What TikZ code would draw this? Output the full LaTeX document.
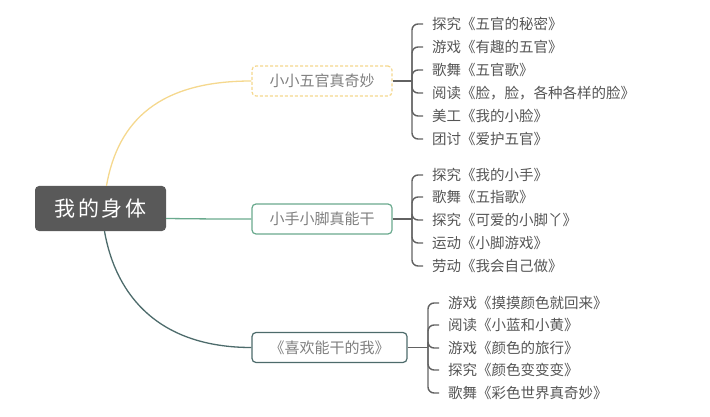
\documentclass[tikz,border=0pt]{standalone}
\usepackage{fontspec}
\setmainfont{Noto Sans CJK SC}
\newfontfamily\rootfont[LetterSpace=12]{Noto Sans CJK SC}

\definecolor{rootgray}{HTML}{595959}
\definecolor{wgline}{HTML}{F5D88E}
\definecolor{sjline}{HTML}{6AAA8E}
\definecolor{woline}{HTML}{4D6B6B}
\definecolor{bracegray}{HTML}{626262}
\definecolor{txtgray}{HTML}{555555}
\definecolor{topicgray}{HTML}{808080}

\tikzset{
  leaf/.style={anchor=west, inner xsep=9pt, inner ysep=0pt, text=txtgray,
    font=\fontsize{14.5}{14.5}\selectfont},
  topic/.style={draw, rounded corners=4pt, line width=1.2pt, minimum width=140pt,
    minimum height=30pt, fill=white, text=topicgray, font=\fontsize{15}{15}\selectfont},
  brace/.style={bracegray, line width=1.4pt, rounded corners=6pt},
}

\begin{document}
\begin{tikzpicture}[x=1pt, y=-1pt]
    \useasboundingbox (0,0) rectangle (710,417);

    % Main topic
    \node[fill=rootgray, rounded corners=4pt, minimum width=131pt, minimum height=45pt,
      text=white, font=\rootfont\fontsize{21}{21}\selectfont] (root) at (100.5,208.5) {我的身体};

    % Three sub topics
    \node[topic, draw=wgline, dash pattern=on 3pt off 2pt] (wg) at (322,81) {小小五官真奇妙};
    \node[topic, draw=sjline] (sj) at (322,219) {小手小脚真能干};
    \node[topic, draw=woline, minimum width=155pt] (wo) at (329.5,347.5) {《喜欢能干的我》};

    % Curves from the main topic
    \draw[wgline, line width=1.3pt] ([xshift=6pt]root.north) .. controls (118,120) and (160,81) .. (wg.west);
    \draw[sjline, line width=1.3pt] ([yshift=-10pt]root.east) .. controls (210,219) and (215,219) .. (sj.west);
    \draw[woline, line width=1.3pt] ([xshift=4pt]root.south) .. controls (116,297) and (160,347.5) .. (wo.west);

    % Brace points
    \coordinate (wgbr) at (412,81);
    \coordinate (sjbr) at (412,219);
    \coordinate (wobr) at (428,347.5);

    % Leaves of the first topic
    \node[leaf] (wg1) at (423,24) {探究《五官的秘密》};
    \node[leaf] (wg2) at (423,47) {游戏《有趣的五官》};
    \node[leaf] (wg3) at (423,70) {歌舞《五官歌》};
    \node[leaf] (wg4) at (423,93) {阅读《脸，脸，各种各样的脸》};
    \node[leaf] (wg5) at (423,116) {美工《我的小脸》};
    \node[leaf] (wg6) at (423,139) {团讨《爱护五官》};

    % Leaves of the second topic
    \node[leaf] (sj1) at (423,175) {探究《我的小手》};
    \node[leaf] (sj2) at (423,197) {歌舞《五指歌》};
    \node[leaf] (sj3) at (423,220) {探究《可爱的小脚丫》};
    \node[leaf] (sj4) at (423,243) {运动《小脚游戏》};
    \node[leaf] (sj5) at (423,266) {劳动《我会自己做》};

    % Leaves of the third topic
    \node[leaf] (wo1) at (439,303) {游戏《摸摸颜色就回来》};
    \node[leaf] (wo2) at (439,325) {阅读《小蓝和小黄》};
    \node[leaf] (wo3) at (439,348) {游戏《颜色的旅行》};
    \node[leaf] (wo4) at (439,370) {探究《颜色变变变》};
    \node[leaf] (wo5) at (439,393) {歌舞《彩色世界真奇妙》};

    % Braces
    \draw[bracegray, line width=1.4pt] (wg.east) -- (wgbr);
    \draw[bracegray, line width=1.4pt] (sj.east) -- (sjbr);
    \draw[bracegray, line width=1.4pt] (wo.east) -- (wobr);
    \foreach \i in {1,...,6} \draw[brace] (wgbr) |- (wg\i.west);
    \foreach \i in {1,...,5} \draw[brace] (sjbr) |- (sj\i.west);
    \foreach \i in {1,...,5} \draw[brace] (wobr) |- (wo\i.west);
\end{tikzpicture}
\end{document}
